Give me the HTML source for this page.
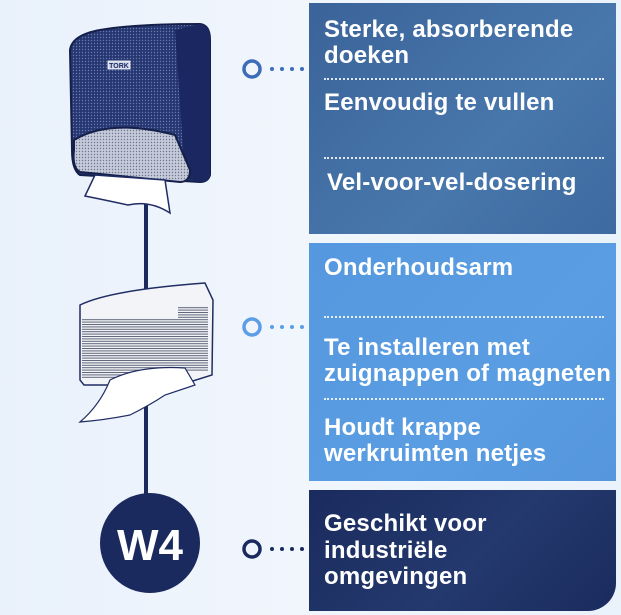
<!DOCTYPE html>
<html><head><meta charset="utf-8"><style>
body{margin:0;width:621px;height:615px;overflow:hidden;background:linear-gradient(90deg,#e9f1fb,#f1f6fd 50%,#eaf2fb);font-family:"Liberation Sans",sans-serif;position:relative}
.p{position:absolute;left:309px;width:307px;color:#fff;font-weight:bold;font-size:24px;line-height:26px;letter-spacing:0.2px}
.t{position:absolute;left:15px;white-space:nowrap}
.d{position:absolute;left:15px;width:280px;border-top:2px dotted rgba(255,255,255,.85)}
</style></head><body>
<svg width="621" height="615" style="position:absolute;left:0;top:0">
<defs><pattern id="dt" width="3" height="3" patternUnits="userSpaceOnUse"><rect width="3" height="3" fill="#263670"/><circle cx="1.5" cy="1.5" r=".7" fill="#6a7ab0"/></pattern>
<pattern id="gt" width="3" height="3" patternUnits="userSpaceOnUse"><rect width="3" height="3" fill="#c5cad8"/><circle cx="1.5" cy="1.5" r=".7" fill="#6d7696"/></pattern>
<pattern id="ln" width="4" height="2.4" patternUnits="userSpaceOnUse"><rect width="4" height="2.4" fill="#f4f5f8"/><rect width="4" height="1" fill="#5d6378"/></pattern></defs>
<line x1="146" y1="190" x2="146" y2="500" stroke="#1b2a5e" stroke-width="4"/>
<!-- top dispenser -->
<path d="M70 50 Q72 35 100 30 Q135 24 200 24 Q210 25 210 40 L210 175 Q208 182 200 182 L80 175 Q72 170 72 150 Z" fill="url(#dt)" stroke="#141f4a" stroke-width="2"/>
<path d="M175 30 L200 24 Q210 25 210 40 L210 175 Q208 182 200 182 L185 178 Z" fill="#1b2760"/>
<path d="M74 140 Q110 118 175 135 L190 170 Q190 182 180 182 L80 172 Q72 168 74 150 Z" fill="url(#gt)" stroke="#141f4a" stroke-width="2"/>
<rect x="108" y="61" width="22" height="8" fill="#cfd6e8" stroke="#fff" stroke-width=".8"/><text x="119" y="68" font-size="7" fill="#1f2d63" text-anchor="middle" font-family="Liberation Sans" font-weight="bold">TORK</text>
<path d="M95 175 L165 180 L170 213 Q150 200 128 205 Q105 200 85 196 Z" fill="#fff" stroke="#1f2d63" stroke-width="1.5"/>
<!-- middle pack -->
<path d="M80 305 Q110 290 205 283 L213 300 L212 375 L180 385 L84 385 L80 380 Z" fill="#f3f4f7" stroke="#1f2d63" stroke-width="1.5"/>
<rect x="82" y="318" width="96" height="60" fill="url(#ln)"/>
<rect x="178" y="306" width="30" height="65" fill="url(#ln)"/>
<path d="M110 380 Q140 365 185 368 L195 385 L165 395 Q150 405 130 415 Q105 420 80 422 Q100 405 110 380 Z" fill="#fff" stroke="#1f2d63" stroke-width="1.2"/>
<!-- W4 -->
<circle cx="150" cy="543" r="50" fill="#1b2a5e"/>
<text x="150" y="560" font-size="44" font-weight="bold" fill="#fff" text-anchor="middle" font-family="Liberation Sans">W4</text>
<!-- connectors -->
<circle cx="252" cy="69" r="8" fill="none" stroke="#3c6cb8" stroke-width="3.5"/>
<g fill="#3c6cb8"><circle cx="272" cy="69" r="2"/><circle cx="282" cy="69" r="2"/><circle cx="292" cy="69" r="2"/><circle cx="302" cy="69" r="2"/></g>
<circle cx="252" cy="327" r="8" fill="none" stroke="#5b9de6" stroke-width="3.5"/>
<g fill="#5b9de6"><circle cx="272" cy="327" r="2"/><circle cx="282" cy="327" r="2"/><circle cx="292" cy="327" r="2"/><circle cx="302" cy="327" r="2"/></g>
<circle cx="252" cy="549" r="8" fill="none" stroke="#1b2a5e" stroke-width="3.5"/>
<g fill="#1b2a5e"><circle cx="272" cy="549" r="2"/><circle cx="282" cy="549" r="2"/><circle cx="292" cy="549" r="2"/><circle cx="302" cy="549" r="2"/></g>
</svg>
<div class="p" style="top:3px;height:231px;background:linear-gradient(135deg,#3a6399,#4877ac 60%,#3d6aa0)">
<div class="t" style="top:14px">Sterke, absorberende<br>doeken</div>
<div class="d" style="top:75px"></div>
<div class="t" style="top:87px">Eenvoudig te vullen</div>
<div class="d" style="top:154px"></div>
<div class="t" style="top:167px;left:18px">Vel-voor-vel-dosering</div>
</div>
<div class="p" style="top:243px;height:238px;background:linear-gradient(135deg,#5598df,#5a9de2 60%,#5596dc)">
<div class="t" style="top:12px">Onderhoudsarm</div>
<div class="d" style="top:73px"></div>
<div class="t" style="top:92px">Te installeren met<br>zuignappen of magneten</div>
<div class="d" style="top:155px"></div>
<div class="t" style="top:172px">Houdt krappe<br>werkruimten netjes</div>
</div>
<div class="p" style="top:490px;height:121px;border-bottom-right-radius:28px;background:linear-gradient(135deg,#1a2b5e,#24396e 55%,#1a2b5e)">
<div class="t" style="top:21px;line-height:26.5px">Geschikt voor<br>industriële<br>omgevingen</div>
</div>
</body></html>
